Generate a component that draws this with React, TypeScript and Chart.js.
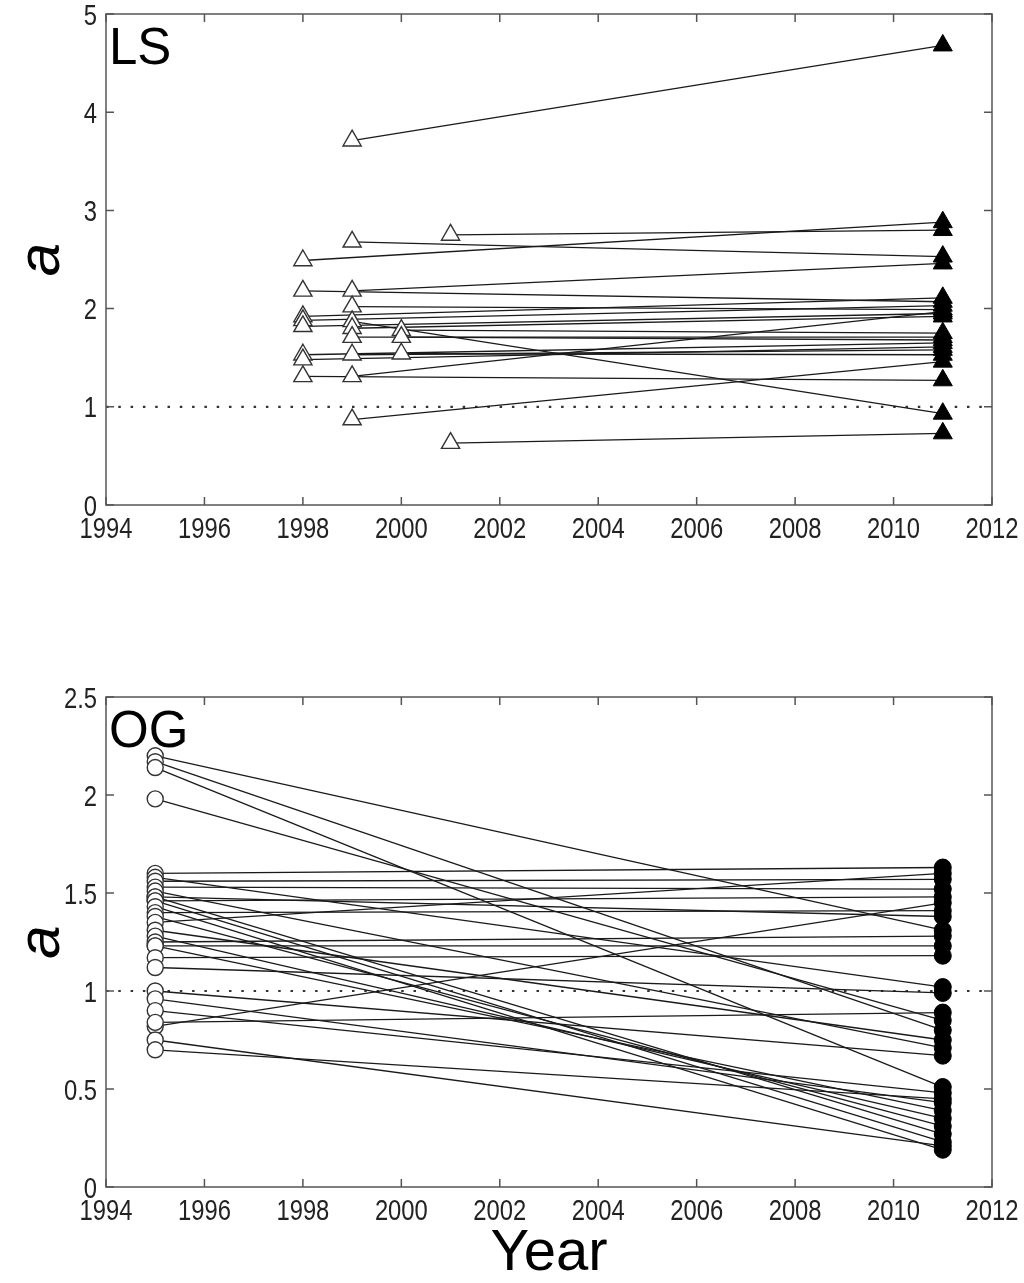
import React, { useEffect, useRef } from "react";
import { Chart, registerables } from "chart.js";
Chart.register(...registerables);

// ---------- Data ----------
const xTickYears = [1994, 1996, 1998, 2000, 2002, 2004, 2006, 2008, 2010, 2012];

// LS panel (triangles)
const lsStartYear = [1999, 1998, 1999, 2001, 1999, 1998, 1999, 1999, 1999, 1998, 2001, 1999, 1998, 1998, 1998, 1999, 2000, 1999, 2000, 1998, 1998, 1999, 2000];
const lsStartA = [3.71, 2.49, 2.68, 2.75, 2.18, 2.18, 2.02, 1.31, 0.87, 1.31, 0.63, 1.87, 1.92, 1.88, 1.82, 1.80, 1.78, 1.71, 1.71, 1.53, 1.48, 1.53, 1.54];
const lsEndYear = 2011;
const lsEndA = [4.68, 2.88, 2.53, 2.80, 2.46, 2.07, 1.99, 1.97, 1.46, 1.27, 0.73, 0.93, 2.11, 2.03, 1.95, 1.92, 1.75, 1.71, 1.68, 1.65, 1.61, 1.58, 1.53];

// OG panel (circles)
const ogStartYear = 1995;
const ogStartA = [2.20, 2.17, 2.14, 1.98, 1.60, 1.58, 1.56, 1.53, 1.51, 1.48, 1.48, 1.46, 1.46, 1.43, 1.40, 1.38, 1.35, 1.31, 1.28, 1.25, 1.23, 1.23, 1.17, 1.12, 1.00, 0.96, 0.90, 0.82, 0.84, 0.75, 0.70];
const ogEndYear = 2011;
const ogEndA = [1.31, 0.80, 0.51, 0.85, 1.63, 1.02, 1.57, 1.52, 0.71, 1.38, 0.27, 0.23, 1.48, 0.19, 1.41, 0.31, 1.60, 0.75, 0.35, 1.28, 1.23, 0.39, 1.18, 0.99, 0.67, 0.43, 0.48, 1.45, 0.89, 0.21, 0.45];

const refLineA = 1;

// ---------- Styling ----------
const SANS = "'Liberation Sans', Arial, sans-serif";
const TICK_FONT = `29px ${SANS}`;
const CONDENSE = 0.82;

const framePlugin = {
  id: "frame",
  afterDatasetsDraw(chart: any, _args: any, opts: any) {
    const { ctx, chartArea } = chart;
    const { left, right, top, bottom } = chartArea;
    const xs = chart.scales.x;
    const ys = chart.scales.y;
    ctx.save();
    ctx.strokeStyle = "#555";
    ctx.lineWidth = 1.5;
    ctx.strokeRect(left, top, right - left, bottom - top);
    const tl = 8;
    ctx.beginPath();
    xs.ticks.forEach((t: any) => {
      const px = xs.getPixelForValue(t.value);
      ctx.moveTo(px, bottom);
      ctx.lineTo(px, bottom - tl);
      ctx.moveTo(px, top);
      ctx.lineTo(px, top + tl);
    });
    ys.ticks.forEach((t: any) => {
      const py = ys.getPixelForValue(t.value);
      ctx.moveTo(left, py);
      ctx.lineTo(left + tl, py);
      ctx.moveTo(right, py);
      ctx.lineTo(right - tl, py);
    });
    ctx.stroke();

    ctx.fillStyle = "#222";
    ctx.font = TICK_FONT;
    ctx.textBaseline = "alphabetic";
    ctx.textAlign = "center";
    xs.ticks.forEach((t: any) => {
      const text = String(t.value);
      let px = xs.getPixelForValue(t.value);
      const half = (ctx.measureText(text).width * CONDENSE) / 2;
      if (px + half > chart.width - 3) px = chart.width - 3 - half;
      ctx.save();
      ctx.translate(px, bottom + 33);
      ctx.scale(CONDENSE, 1);
      ctx.fillText(text, 0, 0);
      ctx.restore();
    });
    ctx.textAlign = "right";
    ys.ticks.forEach((t: any) => {
      const py = ys.getPixelForValue(t.value);
      ctx.save();
      ctx.translate(left - 9, py + 10.5);
      ctx.scale(CONDENSE, 1);
      ctx.fillText(String(t.value), 0, 0);
      ctx.restore();
    });

    if (opts && opts.label) {
      ctx.font = `51px ${SANS}`;
      ctx.fillStyle = "#000";
      ctx.textBaseline = "alphabetic";
      ctx.textAlign = "left";
      ctx.fillText(opts.label, left + 3, top + 50);
    }
    ctx.restore();
  },
};

function buildConfig(
  startYears: number[],
  startA: number[],
  endYear: number,
  endA: number[],
  yMax: number,
  yStep: number,
  marker: string,
  radiusOpen: number,
  radiusFilled: number,
  label: string,
  padTop: number,
  xAxisHeight: number,
  showXTitle: boolean
) {
  const lines = startA.map((a, i) => ({
    type: "line",
    data: [
      { x: startYears[i], y: a },
      { x: endYear, y: endA[i] },
    ],
    borderColor: "#1a1a1a",
    borderWidth: 1.3,
    pointRadius: 0,
    fill: false,
    order: 2,
  }));
  const openMarkers = {
    type: "scatter",
    data: startA.map((a, i) => ({ x: startYears[i], y: a })),
    pointStyle: marker,
    pointRadius: radiusOpen,
    backgroundColor: "#ffffff",
    borderColor: "#333",
    borderWidth: 1.4,
    order: 0,
  };
  const filledMarkers = {
    type: "scatter",
    data: endA.map((a) => ({ x: endYear, y: a })),
    pointStyle: marker,
    pointRadius: radiusFilled,
    backgroundColor: "#000",
    borderColor: "#000",
    borderWidth: 1,
    order: 0,
  };
  const refLine = {
    type: "line",
    data: [
      { x: xTickYears[0], y: refLineA },
      { x: xTickYears[xTickYears.length - 1], y: refLineA },
    ],
    borderColor: "#333",
    borderWidth: 2.2,
    borderDash: [2.5, 9.8],
    pointRadius: 0,
    fill: false,
    order: 3,
  };
  return {
    type: "line",
    data: { datasets: [openMarkers, filledMarkers, ...lines, refLine] },
    options: {
      animation: false,
      responsive: false,
      events: [],
      layout: { padding: { top: padTop, right: 32, bottom: 0, left: 0 } },
      plugins: {
        legend: { display: false },
        tooltip: { enabled: false },
        frame: { label },
      },
      scales: {
        x: {
          type: "linear",
          min: xTickYears[0],
          max: xTickYears[xTickYears.length - 1],
          afterBuildTicks: (scale: any) => {
            scale.ticks = xTickYears.map((v) => ({ value: v }));
          },
          ticks: { display: false, autoSkip: false, maxRotation: 0 },
          grid: { display: false, drawTicks: false },
          border: { display: false },
          title: {
            display: showXTitle,
            text: "Year",
            color: "#000",
            font: { family: SANS, size: 58, lineHeight: 1.0 },
            padding: { top: 0, bottom: 0 },
          },
          afterFit: (scale: any) => {
            scale.height = xAxisHeight;
            scale.paddingLeft = 0;
            scale.paddingRight = 0;
          },
        },
        y: {
          type: "linear",
          min: 0,
          max: yMax,
          ticks: { display: false, stepSize: yStep },
          grid: { display: false, drawTicks: false },
          border: { display: false },
          title: {
            display: true,
            text: "a",
            color: "#000",
            font: { family: SANS, size: 60, style: "italic" },
            padding: { top: 6, bottom: 0 },
          },
          afterFit: (scale: any) => {
            scale.width = 106;
            scale.paddingTop = 0;
            scale.paddingBottom = 0;
          },
        },
      },
    },
    plugins: [framePlugin],
  };
}

function Panel(props: { top: number; height: number; config: any }) {
  const ref = useRef<HTMLCanvasElement>(null);
  useEffect(() => {
    if (!ref.current) return;
    const chart = new Chart(ref.current, props.config);
    return () => chart.destroy();
  }, []);
  return (
    <canvas
      ref={ref}
      width={1024}
      height={props.height}
      style={{ position: "absolute", left: 0, top: props.top, width: 1024, height: props.height }}
    />
  );
}

export default function App() {
  const lsConfig = buildConfig(lsStartYear, lsStartA, lsEndYear, lsEndA, 5, 1, "triangle", 10.5, 11, "LS", 14, 55, false);
  const ogConfig = buildConfig(
    ogStartA.map(() => ogStartYear),
    ogStartA,
    ogEndYear,
    ogEndA,
    2.5,
    0.5,
    "circle",
    8,
    8.5,
    "OG",
    97,
    96,
    true
  );
  return (
    <div style={{ position: "absolute", left: 0, top: 0, width: 1024, height: 1283, background: "#fff" }}>
      <Panel top={0} height={560} config={lsConfig} />
      <Panel top={600} height={683} config={ogConfig} />
    </div>
  );
}
